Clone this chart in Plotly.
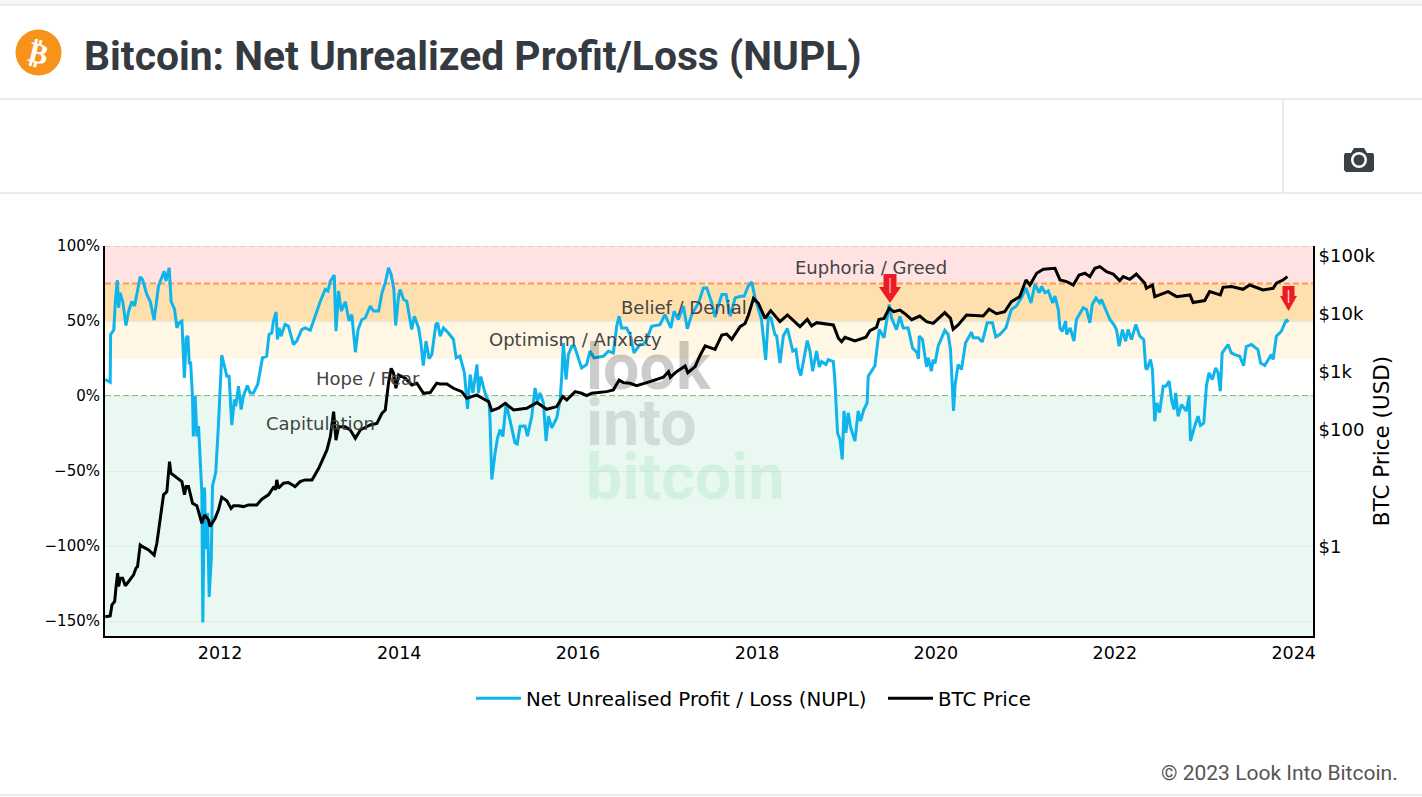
import pandas as pd
import plotly.graph_objects as go

# NUPL (decimal year, percent)
nupl_years = [2010.715, 2010.77, 2010.775, 2010.81, 2010.83, 2010.85, 2010.864, 2010.88, 2010.91, 2010.946, 2010.976,
              2011.013, 2011.043, 2011.07, 2011.106, 2011.132, 2011.18, 2011.218, 2011.262, 2011.31, 2011.348, 2011.374,
              2011.393, 2011.43, 2011.452, 2011.49, 2011.516, 2011.54, 2011.572, 2011.6, 2011.62, 2011.64, 2011.654,
              2011.67, 2011.69, 2011.70, 2011.72, 2011.74, 2011.758, 2011.776, 2011.795, 2011.806, 2011.825, 2011.84,
              2011.858, 2011.877, 2011.90, 2011.914, 2011.95, 2011.98, 2012.0, 2012.018, 2012.048, 2012.075, 2012.10,
              2012.13, 2012.16, 2012.175, 2012.205, 2012.235, 2012.26, 2012.305, 2012.335, 2012.372, 2012.42, 2012.455,
              2012.473, 2012.52, 2012.547, 2012.577, 2012.596, 2012.626, 2012.64, 2012.66, 2012.68, 2012.726, 2012.763,
              2012.82, 2012.856, 2012.912, 2012.95, 2013.006, 2013.06, 2013.118, 2013.173, 2013.203, 2013.23, 2013.274,
              2013.293, 2013.322, 2013.352, 2013.397, 2013.44, 2013.47, 2013.51, 2013.54, 2013.583, 2013.62, 2013.676,
              2013.713, 2013.77, 2013.807, 2013.844, 2013.88, 2013.91, 2013.94, 2013.96, 2013.993, 2014.01, 2014.05,
              2014.085, 2014.14, 2014.17, 2014.217, 2014.243, 2014.27, 2014.3, 2014.335, 2014.365, 2014.41, 2014.43,
              2014.458, 2014.495, 2014.55, 2014.607, 2014.637, 2014.68, 2014.73, 2014.764, 2014.794, 2014.824, 2014.87,
              2014.887, 2014.913, 2014.96, 2015.006, 2015.017, 2015.036, 2015.073, 2015.1, 2015.129, 2015.16, 2015.196,
              2015.24, 2015.296, 2015.32, 2015.352, 2015.408, 2015.434, 2015.483, 2015.52, 2015.546, 2015.576, 2015.613,
              2015.643, 2015.669, 2015.706, 2015.762, 2015.8, 2015.818, 2015.836, 2015.866, 2015.892, 2015.93, 2015.96,
              2015.985, 2016.04, 2016.097, 2016.134, 2016.18, 2016.284, 2016.34, 2016.395, 2016.433, 2016.46, 2016.488,
              2016.544, 2016.589, 2016.626, 2016.693, 2016.73, 2016.768, 2016.824, 2016.917, 2016.972, 2017.036, 2017.073,
              2017.12, 2017.177, 2017.22, 2017.27, 2017.345, 2017.40, 2017.438, 2017.494, 2017.53, 2017.606, 2017.654,
              2017.70, 2017.755, 2017.81, 2017.855, 2017.90, 2017.94, 2017.978, 2018.05, 2018.097, 2018.127, 2018.156,
              2018.2, 2018.22, 2018.257, 2018.294, 2018.34, 2018.376, 2018.4, 2018.435, 2018.462, 2018.49, 2018.517,
              2018.562, 2018.592, 2018.622, 2018.666, 2018.696, 2018.722, 2018.77, 2018.797, 2018.853, 2018.87, 2018.89,
              2018.9, 2018.927, 2018.953, 2018.972, 2018.994, 2019.02, 2019.047, 2019.095, 2019.132, 2019.158, 2019.195,
              2019.232, 2019.244, 2019.318, 2019.344, 2019.367, 2019.42, 2019.45, 2019.478, 2019.505, 2019.56, 2019.598,
              2019.635, 2019.69, 2019.74, 2019.79, 2019.806, 2019.814, 2019.85, 2019.896, 2019.915, 2019.95, 2019.97,
              2019.99, 2020.026, 2020.1, 2020.138, 2020.164, 2020.186, 2020.198, 2020.216, 2020.25, 2020.287, 2020.332,
              2020.4, 2020.417, 2020.473, 2020.52, 2020.574, 2020.633, 2020.67, 2020.715, 2020.783, 2020.845, 2020.9,
              2020.957, 2021.006, 2021.062, 2021.106, 2021.155, 2021.18, 2021.218, 2021.255, 2021.304, 2021.33, 2021.367,
              2021.386, 2021.41, 2021.45, 2021.46, 2021.5, 2021.542, 2021.57, 2021.646, 2021.683, 2021.72, 2021.747,
              2021.788, 2021.83, 2021.85, 2021.888, 2021.944, 2021.988, 2022.018, 2022.048, 2022.085, 2022.12, 2022.148,
              2022.186, 2022.234, 2022.279, 2022.323, 2022.345, 2022.36, 2022.398, 2022.42, 2022.446, 2022.47, 2022.5,
              2022.54, 2022.57, 2022.607, 2022.633, 2022.66, 2022.68, 2022.707, 2022.744, 2022.8, 2022.83, 2022.845,
              2022.893, 2022.93, 2022.957, 2022.994, 2023.024, 2023.053, 2023.09, 2023.128, 2023.154, 2023.18, 2023.2,
              2023.266, 2023.303, 2023.34, 2023.396, 2023.44, 2023.47, 2023.527, 2023.6, 2023.63, 2023.676, 2023.75,
              2023.77, 2023.806, 2023.862, 2023.918, 2023.94]
nupl_values = [11, 9.2, 41, 44, 65.4, 77.2, 58.8, 68.8, 63, 47, 56.6,
               63, 60, 68.8, 79.4, 77.7, 67.7, 63, 50.6, 73.2, 78.8, 83.2,
               76.6, 85.4, 63, 57.7, 45.4, 48.8, 49.9, 12, 38.8, 39.9, 22,
               22, 0, -27, 0, -27, -20, -44.6, -64.6, -151, -61, -102,
               -78, -134, -109, -60, -51, -20, 2, 27.2, 20, 13.2, 13.2,
               -19.4, -2.3, -6.8, 6.6, -9, 0, 7, 2, 2, 7.7, 20,
               25.4, 26.6, 41, 42, 49.9, 56, 37.7, 45.4, 39.9, 47.7, 46.6,
               34.3, 36.6, 44.3, 45.4, 43.9, 53.2, 63.2, 71, 70, 76.6, 80.6,
               43.2, 70, 56.6, 62.8, 50, 54.3, 29.2, 44.3, 51, 52, 60,
               56.6, 56.6, 68.8, 75.4, 85.4, 81, 71, 47, 66.6, 71, 64.3,
               63.2, 44.3, 53.2, 45.4, 35.4, 20.3, 36.6, 24.8, 27.7, 47.7, 48.8,
               39.9, 45.4, 42, 37.7, 25.4, 26.6, 15.4, -8.6, 14.3, 2, 21,
               2, 13, 2, -4.6, -16.8, -55.7, -38, -28, -22.4, -27, -4.6,
               -15.7, -31.3, -32, -20.1, -20, -26.8, -13.5, 5.4, -3.5, 2, -4.6,
               -30, -13.5, -21.3, -14.6, -2.4, 13, 35.4, 11, 27.6, 33.2, 33.2,
               28.7, 18.7, 21, 29.9, 25.4, 26.5, 29.9, 28.7, 46.5, 53.2, 45.4,
               45.4, 39.9, 28.7, 34.3, 34.3, 37.6, 46.5, 47.6, 54.3, 45.4, 56.5,
               51, 59.9, 44.8, 54.3, 62, 72, 72, 62, 52.7, 67.6, 67.6,
               53.2, 65.4, 66.5, 66.5, 73.2, 76, 65.4, 51, 24, 53, 52,
               41, 40, 22, 40, 45, 36.6, 30, 31, 18.8, 13.7, 22,
               37, 30, 16.6, 30, 19.4, 23, 21, 24.3, 23, 11, -9,
               -24.6, -29, -42.3, -10, -24.6, -11.2, -21, -30, -10, -16.8, -9,
               -4.6, 13.2, 20, 35.4, 44.3, 38.8, 48.8, 61, 52, 44.3, 53,
               45.4, 45.4, 32, 28.8, 24.8, 39.9, 37.7, 19.4, 25.4, 16.6, 24.3,
               21.7, 33.2, 43.7, 41, 31, 2, -10, 7.7, 21, 17.7, 35.4,
               42.6, 38.8, 38.8, 36, 48.8, 48.8, 39.4, 41, 45.4, 57.7, 60,
               65.4, 72, 62, 74.3, 68.8, 73, 68.8, 70, 62, 66.6, 57.7,
               45.4, 43, 50, 41, 45.4, 36.6, 51, 58.8, 57.7, 48.8, 61,
               65.4, 62, 64.3, 58.8, 51, 47.6, 44.3, 33.2, 44.3, 36.5, 44.3,
               37.6, 47.6, 39.9, 37.6, 18.7, 17.6, 24.3, 17.6, -16.8, -4.6, -11,
               6.5, 6.5, 9.9, -2.4, -9, 2, -13.5, -5.7, -10, 0, -30,
               -20, -13.5, -19.7, -18, 6.5, 15.4, 11, 18.7, 15.4, 3.2, 28.7,
               34.3, 28.7, 27.6, 26.5, 20.3, 33, 34.3, 31, 22, 20.3, 27.6,
               24.3, 39.9, 43.2, 51, 49.2]

# BTC price (decimal year, USD)
price_years = [2010.715, 2010.77, 2010.79, 2010.82, 2010.834, 2010.853, 2010.864, 2010.883, 2010.909, 2010.939, 2010.976,
               2011.032, 2011.058, 2011.076, 2011.106, 2011.132, 2011.2, 2011.262, 2011.292, 2011.33, 2011.367, 2011.404,
               2011.434, 2011.449, 2011.497, 2011.572, 2011.601, 2011.62, 2011.646, 2011.691, 2011.74, 2011.795, 2011.825,
               2011.87, 2011.888, 2011.944, 2011.981, 2012.018, 2012.075, 2012.123, 2012.15, 2012.205, 2012.26, 2012.317,
               2012.41, 2012.466, 2012.54, 2012.603, 2012.62, 2012.633, 2012.652, 2012.708, 2012.763, 2012.838, 2012.894,
               2012.95, 2013.025, 2013.1, 2013.192, 2013.23, 2013.267, 2013.293, 2013.322, 2013.397, 2013.453, 2013.509,
               2013.565, 2013.676, 2013.75, 2013.807, 2013.844, 2013.88, 2013.91, 2013.937, 2013.963, 2013.993, 2014.068,
               2014.142, 2014.198, 2014.272, 2014.347, 2014.42, 2014.458, 2014.533, 2014.607, 2014.7, 2014.756, 2014.812,
               2014.868, 2014.93, 2015.0, 2015.036, 2015.11, 2015.185, 2015.28, 2015.427, 2015.54, 2015.65, 2015.762,
               2015.83, 2015.874, 2015.967, 2016.04, 2016.097, 2016.153, 2016.32, 2016.395, 2016.46, 2016.507, 2016.58,
               2016.656, 2016.805, 2016.954, 2017.01, 2017.03, 2017.1, 2017.196, 2017.226, 2017.308, 2017.365, 2017.42,
               2017.53, 2017.606, 2017.66, 2017.717, 2017.81, 2017.866, 2017.904, 2017.96, 2018.015, 2018.09, 2018.153,
               2018.257, 2018.34, 2018.48, 2018.562, 2018.61, 2018.666, 2018.853, 2018.91, 2018.946, 2018.983, 2019.095,
               2019.218, 2019.263, 2019.337, 2019.363, 2019.42, 2019.478, 2019.53, 2019.598, 2019.654, 2019.73, 2019.82,
               2019.896, 2019.97, 2020.1, 2020.164, 2020.194, 2020.25, 2020.343, 2020.53, 2020.596, 2020.678, 2020.77,
               2020.845, 2020.938, 2021.006, 2021.05, 2021.125, 2021.2, 2021.33, 2021.386, 2021.46, 2021.535, 2021.6,
               2021.665, 2021.72, 2021.777, 2021.832, 2021.906, 2021.98, 2022.055, 2022.093, 2022.167, 2022.24, 2022.335,
               2022.353, 2022.42, 2022.446, 2022.595, 2022.69, 2022.84, 2022.875, 2023.005, 2023.06, 2023.135, 2023.18,
               2023.21, 2023.303, 2023.433, 2023.508, 2023.657, 2023.77, 2023.806, 2023.88, 2023.93]
price_values = [0.062, 0.064, 0.099, 0.113, 0.191, 0.346, 0.204, 0.284, 0.284, 0.21, 0.249,
                0.324, 0.42, 0.45, 1.06, 0.99, 0.87, 0.71, 1.13, 3.26, 7.7, 8.75,
                28.7, 18.1, 15.8, 13, 7.7, 10.7, 10.7, 5.5, 5, 2.5, 3.48,
                2.85, 2.19, 3.05, 4.24, 7, 6.1, 4.5, 5, 5, 4.83, 5.16,
                5.16, 6.46, 7.7, 10.7, 9.35, 13.9, 10, 12.2, 12.5, 10.7, 13,
                13.9, 13.9, 22, 45.5, 77, 207, 67, 114, 114, 100, 72,
                100, 122, 130, 194, 221, 637, 1150, 944, 522, 885, 776,
                596, 637, 428, 440, 637, 620, 620, 522, 457, 351, 375,
                401, 351, 308, 216, 237, 288, 221, 237, 296, 227, 253,
                375, 329, 457, 428, 391, 428, 457, 489, 725, 653, 637,
                580, 680, 807, 1009, 807, 1009, 1260, 968, 1230, 1950, 2790,
                2440, 4300, 4470, 3630, 5990, 6800, 9500, 18400, 15100, 8300, 11300,
                7300, 9500, 5990, 7950, 6150, 7000, 6400, 3780, 3300, 3930, 3390,
                3930, 5100, 5830, 7950, 8300, 12400, 10800, 11550, 10000, 7900, 9100,
                7300, 6800, 10400, 8300, 5400, 6400, 9500, 9100, 11900, 10000, 10800,
                16100, 19600, 38000, 31100, 49500, 57900, 60200, 38000, 35500, 31100, 46200,
                49500, 43300, 60200, 64300, 52700, 48100, 36900, 43300, 38900, 48100, 33300,
                27300, 31100, 19600, 23900, 19600, 21000, 15500, 16800, 23900, 22400, 21000,
                28400, 29200, 26200, 31100, 25500, 27300, 33300, 37900, 43300]

price_ticks = [1, 100, 1000, 10000, 100000]
price_tick_labels = ["$1", "$100", "$1k", "$10k", "$100k"]

# sentiment bands: lower, upper, colour
bands = [(75, 100, "#ffe3e3"), (50, 75, "#fee0ae"), (25, 50, "#fff6e3"), (-160, 0, "#e9f9f2")]
band_labels = [("Euphoria / Greed", 2019.28, 85.7), ("Belief / Denial", 2017.18, 59),
               ("Optimism / Anxiety", 2015.97, 37.7), ("Hope / Fear", 2013.65, 11.7),
               ("Capitulation", 2013.12, -18.3)]

FONT = "DejaVu Sans"
PLOT_L, PLOT_R, PLOT_T, PLOT_B = 105, 1313, 246, 636


def to_dates(years):
    start = [pd.Timestamp(year=int(y), month=1, day=1) for y in years]
    return [s + pd.Timedelta(days=(y - int(y)) * 365.25) for s, y in zip(start, years)]


# page furniture sits around the plot, so place it in pixels
def px(x):
    return (x - PLOT_L) / (PLOT_R - PLOT_L)


def py(y):
    return (PLOT_B - y) / (PLOT_B - PLOT_T)


def poly(points):
    return "M " + " L ".join(f"{px(x):.5f} {py(y):.5f}" for x, y in points) + " Z"


def page_shape(points, color):
    return dict(type="path", xref="paper", yref="paper", path=poly(points), fillcolor=color,
                line=dict(width=0), layer="above")


def page_line(x0, y0, x1, y1, color="#e4e5e7"):
    return dict(type="line", xref="paper", yref="paper", x0=px(x0), y0=py(y0), x1=px(x1), y1=py(y1),
                line=dict(color=color, width=1.5), layer="above")


def page_circle(cx, cy, r, color):
    return dict(type="circle", xref="paper", yref="paper", x0=px(cx - r), x1=px(cx + r),
                y0=py(cy + r), y1=py(cy - r), fillcolor=color, line=dict(width=0), layer="above")


def down_arrow(cx, top, stem, head, neck, tip):
    return [(cx - stem, top), (cx + stem, top), (cx + stem, neck), (cx + head, neck),
            (cx, tip), (cx - head, neck), (cx - stem, neck)]


fig = go.Figure()
fig.add_trace(go.Scatter(x=to_dates(nupl_years), y=nupl_values, mode="lines",
                         name="Net Unrealised Profit / Loss (NUPL)",
                         line=dict(color="#0fb4ec", width=3)))
fig.add_trace(go.Scatter(x=to_dates(price_years), y=price_values, mode="lines", name="BTC Price", yaxis="y2",
                         line=dict(color="#000000", width=3)))

shapes = []
for low, high, color in bands:
    shapes.append(dict(type="rect", xref="paper", yref="y", x0=0, x1=1, y0=low, y1=high,
                       fillcolor=color, line=dict(width=0), layer="below"))
for level, color, width in [(100, "#ff9f9f", 1.2), (75, "#ff9a4d", 2), (0, "#4cb552", 1.4)]:
    shapes.append(dict(type="line", xref="paper", yref="y", x0=0, x1=1, y0=level, y1=level,
                       line=dict(color=color, width=width, dash="6px,3px"), layer="between"))

# header, footer and icons
shapes.append(dict(type="rect", xref="paper", yref="paper", x0=px(0), x1=px(1422), y0=py(0), y1=py(5),
                   fillcolor="#f5f6f8", line=dict(width=0), layer="above"))
shapes += [page_line(0, 5, 1422, 5), page_line(0, 99, 1422, 99), page_line(0, 193, 1422, 193),
           page_line(0, 795, 1422, 795), page_line(1283, 99, 1283, 193)]
shapes.append(page_circle(38.5, 52.5, 23, "#f7931a"))
shapes.append(page_shape([(1345, 153), (1351, 153), (1354, 148), (1364, 148), (1367, 153), (1373, 153),
                          (1374, 155), (1374, 170), (1372, 172), (1346, 172), (1344, 170), (1344, 155)], "#3b4045"))
shapes.append(page_circle(1359, 160, 8, "#ffffff"))
shapes.append(page_circle(1359, 160, 5.5, "#3b4045"))

# red arrows
shapes.append(page_shape(down_arrow(890, 274, 6.5, 11, 287, 303), "#ed1c24"))
shapes.append(page_line(890, 278, 890, 293, "#f7a8a8"))
shapes.append(page_shape(down_arrow(1288.5, 286, 6, 8.5, 296, 311), "#ed1c24"))
shapes.append(page_line(1288.5, 290, 1288.5, 303, "#f7c8c8"))

annotations = [
    dict(text="<b>Bitcoin: Net Unrealized Profit/Loss (NUPL)</b>", xref="paper", yref="paper", x=px(81.5), y=py(56),
         xanchor="left", yanchor="middle", showarrow=False, font=dict(family="Roboto", size=40.8, color="#343a40")),
    dict(text="<b>₿</b>", xref="paper", yref="paper", x=px(38.5), y=py(52.5), xanchor="center", yanchor="middle",
         showarrow=False, textangle=14, font=dict(family="DejaVu Sans", size=29, color="#ffffff")),
    dict(text="© 2023 Look Into Bitcoin.", xref="paper", yref="paper", x=px(1400), y=py(773), xanchor="right",
         yanchor="middle", showarrow=False, font=dict(family="Roboto", size=21, color="#555555")),
]
# watermark
for word, color, wy in [("look", "rgba(0,0,0,0.2)", 367), ("into", "rgba(60,60,60,0.14)", 423),
                        ("bitcoin", "rgba(50,190,110,0.12)", 477)]:
    annotations.append(dict(text=f"<b>{word}</b>", xref="paper", yref="paper", x=px(583.5), y=py(wy), xanchor="left",
                            yanchor="middle", showarrow=False,
                            font=dict(family="Roboto", size=64.5, color=color)))
for label, x, y in band_labels:
    annotations.append(dict(text=label, x=to_dates([x])[0], y=y, xref="x", yref="y", showarrow=False,
                            font=dict(family=FONT, size=18, color="#444444")))

fig.update_layout(
    width=1422, height=797, autosize=False,
    margin=dict(l=PLOT_L, r=1422 - PLOT_R, t=PLOT_T, b=797 - PLOT_B, pad=0),
    paper_bgcolor="#ffffff", plot_bgcolor="#ffffff",
    font=dict(family=FONT, color="#000000"),
    shapes=shapes, annotations=annotations,
    hovermode="x unified",
    legend=dict(orientation="h", x=px(471), xanchor="left", y=-0.11, yanchor="top", itemwidth=45,
                entrywidth=352, entrywidthmode="pixels", font=dict(family=FONT, size=19.8)),
    xaxis=dict(type="date", range=["2010-09-18", "2024-03-20"], dtick="M24", tick0="2012-01-01", tickformat="%Y",
               showgrid=False, showline=True, linecolor="#000000", linewidth=2, ticks="",
               tickfont=dict(size=17.5)),
    yaxis=dict(range=[-160, 100], dtick=50, ticksuffix="%", showgrid=True, gridcolor="#e3ebe7", gridwidth=1,
               zeroline=False, showline=True, linecolor="#000000", linewidth=2, ticks="", tickfont=dict(size=15)),
    yaxis2=dict(type="log", range=[-1.54, 5.163], overlaying="y", side="right", tickvals=price_ticks,
                ticktext=price_tick_labels, showgrid=False, zeroline=False, showline=True, linecolor="#000000",
                linewidth=2, ticks="", tickfont=dict(size=18),
                title=dict(text="BTC Price (USD)", font=dict(size=21.5), standoff=0)),
)

fig.write_html("out.html", config={"displayModeBar": False}, post_script="document.body.style.margin='0';")
